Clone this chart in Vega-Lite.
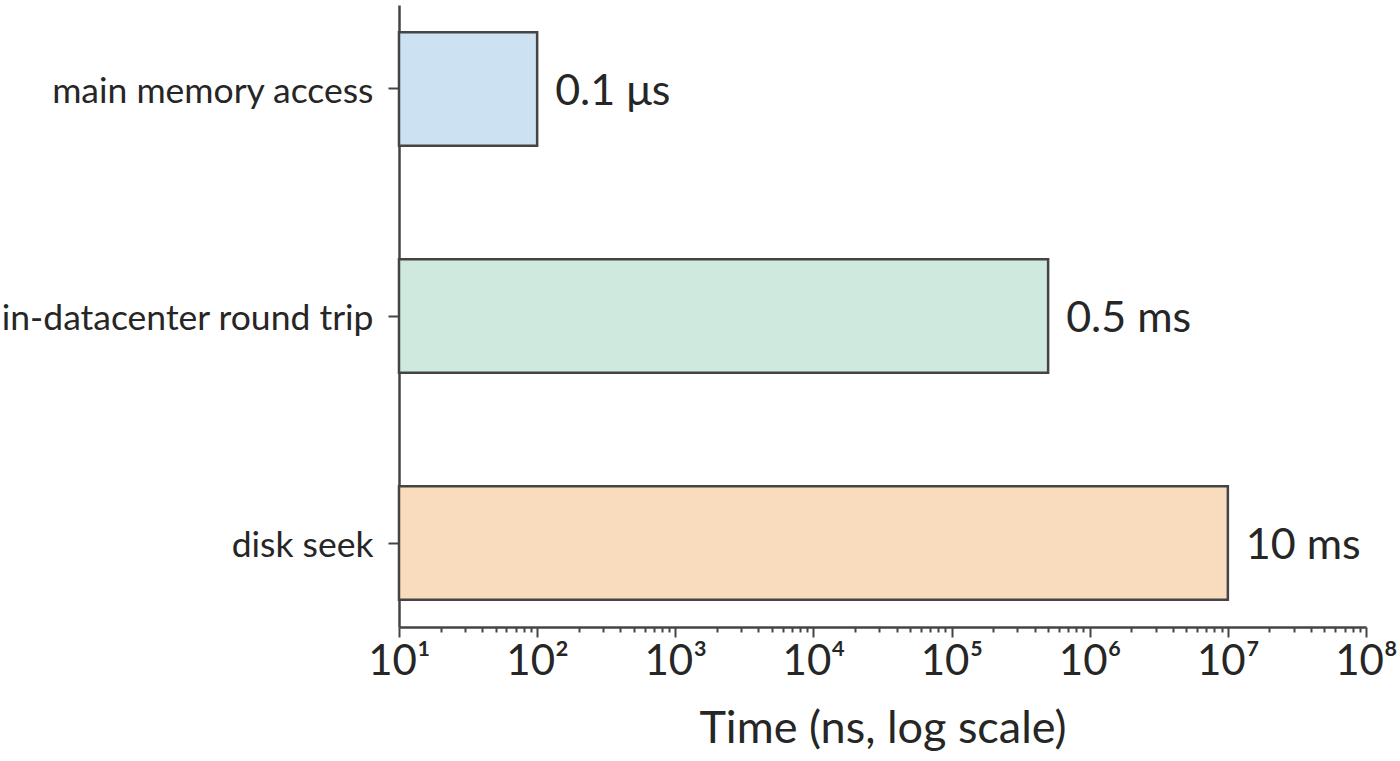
{
  "$schema": "https://vega.github.io/schema/vega-lite/v6.json",
  "autosize": {"type": "none"},
  "padding": {"left": 399, "top": 5, "right": 34, "bottom": 134},
  "width": 967,
  "height": 622,
  "data": {
    "values": [
      {"op": "main memory access", "ns": 100, "label": "0.1 μs"},
      {"op": "in-datacenter round trip", "ns": 500000, "label": "0.5 ms"},
      {"op": "disk seek", "ns": 10000000, "label": "10 ms"}
    ]
  },
  "encoding": {
    "y": {
      "field": "op",
      "type": "nominal",
      "sort": null,
      "scale": {"paddingInner": 0.5, "paddingOuter": 0.12},
      "axis": {
        "title": null,
        "labelFontSize": 35.5,
        "labelLimit": 600,
        "labelPadding": 15,
        "labelOffset": 3,
        "tickSize": 11
      }
    }
  },
  "layer": [
    {
      "mark": {"type": "bar", "stroke": "#444444", "strokeWidth": 2.5},
      "encoding": {
        "x": {
          "field": "ns",
          "type": "quantitative",
          "scale": {"type": "log", "domain": [10, 100000000]},
          "axis": {
            "orient": "bottom",
            "values": [10, 100, 1000, 10000, 100000, 1000000, 10000000, 100000000],
            "labelExpr": "'10' + ['⁰','¹','²','³','⁴','⁵','⁶','⁷','⁸'][round(log(datum.value) / LN10)]",
            "labelFontSize": 42,
            "labelPadding": 4,
            "labelFlush": false,
            "tickSize": 10,
            "grid": false,
            "title": "Time (ns, log scale)",
            "titleFontSize": 45,
            "titleFontWeight": "normal",
            "titlePadding": 24
          }
        },
        "x2": {"datum": 10},
        "color": {
          "field": "op",
          "type": "nominal",
          "sort": null,
          "legend": null,
          "scale": {"range": ["#cce2f3", "#d0e9de", "#f8dcbd"]}
        }
      }
    },
    {
      "mark": {"type": "text", "align": "left", "baseline": "middle", "dx": 18, "dy": 3, "fontSize": 43, "color": "#262626", "font": "Lato"},
      "encoding": {
        "x": {
          "field": "ns",
          "type": "quantitative",
          "axis": {
            "orient": "bottom",
            "values": [20, 30, 40, 50, 60, 70, 80, 90, 200, 300, 400, 500, 600, 700, 800, 900, 2000, 3000, 4000, 5000, 6000, 7000, 8000, 9000, 20000, 30000, 40000, 50000, 60000, 70000, 80000, 90000, 200000, 300000, 400000, 500000, 600000, 700000, 800000, 900000, 2000000, 3000000, 4000000, 5000000, 6000000, 7000000, 8000000, 9000000, 20000000, 30000000, 40000000, 50000000, 60000000, 70000000, 80000000, 90000000],
            "labels": false,
            "domain": false,
            "grid": false,
            "tickSize": 5,
            "title": null
          }
        },
        "text": {"field": "label"}
      }
    }
  ],
  "resolve": {"axis": {"x": "independent"}},
  "config": {
    "font": "Lato",
    "view": {"stroke": null},
    "axis": {
      "labelFont": "Lato",
      "titleFont": "Lato",
      "labelColor": "#262626",
      "titleColor": "#262626",
      "domainColor": "#444444",
      "tickColor": "#444444",
      "domainWidth": 2.5,
      "tickWidth": 2
    }
  }
}
